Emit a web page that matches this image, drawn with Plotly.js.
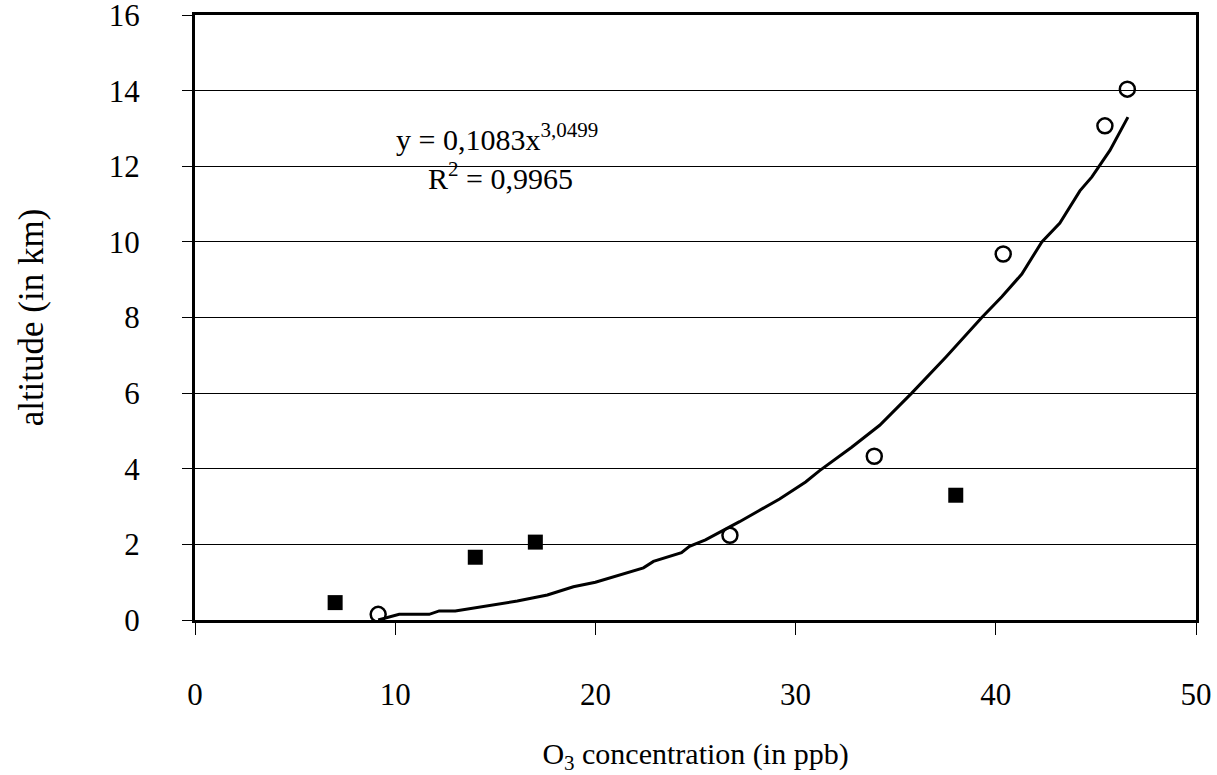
<!DOCTYPE html>
<html>
<head>
<meta charset="utf-8">
<script src="https://cdn.plot.ly/plotly-3.0.1.min.js"></script>
<style>html,body{margin:0;padding:0;background:#fff;}#chart{width:1217px;height:775px;}</style>
</head>
<body>
<div id="chart"></div>
<script>
// Filled squares
const squareX = [7, 14, 17, 38];
const squareY = [0.46, 1.66, 2.06, 3.3];
// Open circles
const circleX = [9.15, 26.72, 33.93, 40.37, 45.45, 46.57];
const circleY = [0.15, 2.24, 4.33, 9.68, 13.07, 14.04];
// Trend line
const trendX = [9.15, 10.2, 11.7, 12.2, 13.0, 14.1, 15.1, 16.1, 17.6, 18.9, 20.0, 22.4, 22.9, 24.3, 24.7, 25.5, 27.2, 29.2, 30.5, 31.2, 32.8, 34.2, 35.8, 36.7, 37.5, 39.3, 40.3, 41.3, 42.3, 43.2, 44.2, 44.8, 45.7, 46.6];
const trendY = [0.0, 0.15, 0.15, 0.24, 0.24, 0.33, 0.42, 0.5, 0.66, 0.88, 1.0, 1.38, 1.55, 1.78, 1.95, 2.12, 2.6, 3.2, 3.65, 3.95, 4.57, 5.15, 6.0, 6.5, 6.95, 8.0, 8.55, 9.15, 10.0, 10.5, 11.35, 11.72, 12.42, 13.3];
const xTicks = [0, 10, 20, 30, 40, 50];
const yTicks = [0, 2, 4, 6, 8, 10, 12, 14, 16];
const eqText = 'y = 0,1083x<sup>3,0499</sup>';
const r2Text = 'R<sup>2</sup> = 0,9965';

const FONT = '"Liberation Serif", "Times New Roman", serif';

const traces = [
  {x: trendX, y: trendY, mode: 'lines', line: {color: '#000', width: 3}, hoverinfo: 'skip', cliponaxis: false},
  {x: squareX, y: squareY, mode: 'markers', marker: {symbol: 'square', size: 15, color: '#000'}, cliponaxis: false},
  {x: circleX, y: circleY, mode: 'markers', marker: {symbol: 'circle-open', size: 15, color: '#000', line: {width: 2.5, color: '#000'}}, cliponaxis: false}
];

const layout = {
  width: 1217, height: 775,
  margin: {l: 195, r: 21, t: 15, b: 155},
  paper_bgcolor: '#fff', plot_bgcolor: '#fff',
  showlegend: false,
  font: {family: FONT, color: '#000', size: 31},
  xaxis: {
    range: [0, 50], tickvals: xTicks, ticktext: xTicks.map(String),
    showgrid: false, zeroline: false,
    showline: true, linecolor: '#000', linewidth: 3, mirror: true,
    ticks: 'outside', ticklen: 12, tickwidth: 1, tickcolor: '#000',
    ticklabelstandoff: 33, ticklabeloverflow: 'allow',
    tickfont: {family: FONT, size: 31, color: '#000'},
    title: {text: 'O<sub>3</sub> concentration (in ppb)', font: {family: FONT, size: 30, color: '#000'}, standoff: 32},
    automargin: false
  },
  yaxis: {
    range: [0, 16.001], tickvals: yTicks, ticktext: yTicks.map(String),
    showgrid: true, gridcolor: '#000', gridwidth: 1,
    zeroline: false,
    showline: true, linecolor: '#000', linewidth: 3, mirror: true,
    ticks: 'outside', ticklen: 10, tickwidth: 1, tickcolor: '#000',
    ticklabelstandoff: 36, ticklabeloverflow: 'allow',
    tickfont: {family: FONT, size: 31, color: '#000'},
    title: {text: 'altitude (in km)', font: {family: FONT, size: 35, color: '#000'}, standoff: 55},
    automargin: false
  },
  annotations: [
    {xref: 'paper', yref: 'paper', x: (497 - 195) / 1001, y: (619.5 - 137) / 604.5, text: eqText, showarrow: false, xanchor: 'center', yanchor: 'middle', font: {family: FONT, size: 30, color: '#000'}},
    {xref: 'paper', yref: 'paper', x: (500 - 195) / 1001, y: (619.5 - 176) / 604.5, text: r2Text, showarrow: false, xanchor: 'center', yanchor: 'middle', font: {family: FONT, size: 30, color: '#000'}}
  ]
};

Plotly.newPlot('chart', traces, layout, {displayModeBar: false, staticPlot: true});
</script>
</body>
</html>
